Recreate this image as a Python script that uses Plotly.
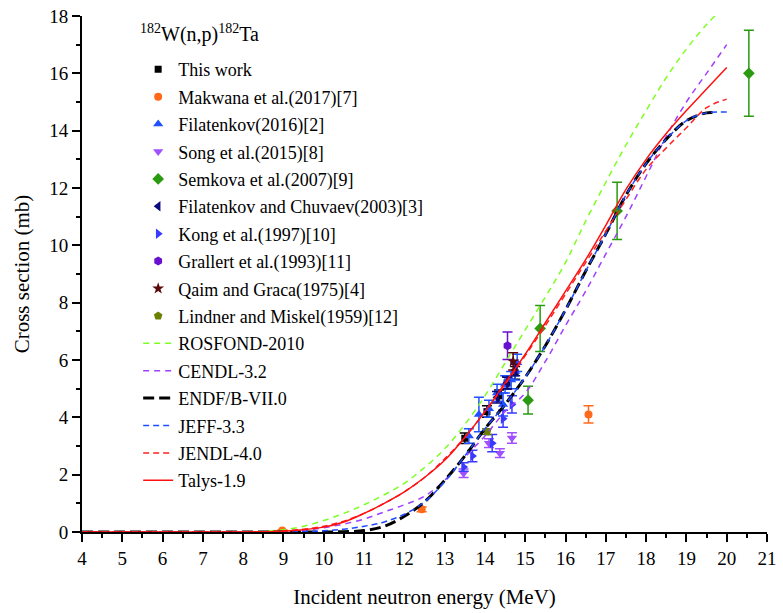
import plotly.graph_objects as go

# ---------------- data ----------------
this_E = [13.5, 14.05, 14.35, 14.55, 14.75]
this_S = [3.27, 4.2, 4.75, 5.2, 5.55]
this_err = [0.18, 0.2, 0.2, 0.22, 0.22]

mak_E = [8.97, 12.43, 16.57]
mak_S = [0.05, 0.79, 4.1]
mak_err = [0.02, 0.08, 0.3]

fil16_E = [13.6, 13.85, 14.1, 14.3, 14.45, 14.5, 14.65, 14.75, 14.8]
fil16_S = [3.35, 4.1, 4.3, 4.85, 4.45, 5.15, 5.3, 5.6, 5.9]
fil16_err = [0.25, 0.6, 0.3, 0.3, 0.4, 0.3, 0.3, 0.3, 0.3]

song_E = [13.47, 14.1, 14.37, 14.67]
song_S = [2.05, 3.1, 2.75, 3.28]
song_err = [0.15, 0.15, 0.15, 0.18]

sem_E = [15.07, 15.37, 17.28, 20.55]
sem_S = [4.6, 7.1, 11.2, 16.0]
sem_err = [0.48, 0.8, 1.0, 1.5]

fc_E = [14.3, 14.55, 14.75]
fc_S = [4.7, 5.2, 5.65]
fc_err = [0.2, 0.2, 0.2]

kong_E = [13.47, 13.69, 14.18, 14.45, 14.67]
kong_S = [2.27, 2.65, 3.1, 3.95, 4.45]
kong_err = [0.15, 0.2, 0.3, 0.3, 0.3]

gra_E = [14.56]
gra_S = [6.5]
gra_err = [0.48]

qaim_E = [14.7]
qaim_S = [5.95]
qaim_err = [0.3]

lind_E = [14.05]
lind_S = [3.5]
lind_err = [0.1]

E_grid = [4, 5, 6, 7, 8, 8.5, 9, 9.5, 10, 10.5, 11, 11.5, 12, 12.5, 13, 13.5,
          14, 14.5, 15, 15.5, 16, 16.5, 17, 17.5, 18, 18.5, 19, 19.5, 20]
rosfond = [0, 0, 0, 0, 0, 0.02, 0.08, 0.2, 0.4, 0.65, 0.95, 1.3, 1.7, 2.25, 2.9, 3.75,
           4.75, 5.9, 7.05, 8.2, 9.4, 10.85, 12.2, 13.5, 14.7, 15.85, 16.85, 17.7, 18.4]
cendl = [0, 0, 0, 0, 0, 0, 0.02, 0.06, 0.15, 0.28, 0.45, 0.7, 0.95, 1.25, 1.8, 2.6,
         3.35, 4.2, 4.85, 5.95, 7.2, 8.4, 9.7, 11.0, 12.4, 13.8, 15.0, 16.0, 17.0]
endf_E = [4, 5, 6, 7, 8, 9, 10, 10.5, 11, 11.5, 12, 12.5, 13, 13.5, 14, 14.5, 15,
          15.5, 16, 16.5, 17, 17.5, 18, 18.5, 19, 19.5, 19.75]
endf = [0, 0, 0, 0, 0, 0, 0, 0.01, 0.05, 0.2, 0.55, 1.05, 1.8, 2.65, 3.6, 4.45, 5.4,
        6.5, 7.75, 9.1, 10.4, 11.75, 12.85, 13.7, 14.35, 14.62, 14.62]
jeff_E = [4, 5, 6, 7, 8, 9, 9.5, 10, 10.5, 11, 11.5, 12, 12.5, 13, 13.5, 14, 14.5,
          15, 15.5, 16, 16.5, 17, 17.5, 18, 18.5, 19, 19.5, 20]
jeff = [0, 0, 0, 0, 0, 0, 0.01, 0.04, 0.1, 0.2, 0.35, 0.62, 1.05, 1.75, 2.65, 3.6,
        4.45, 5.4, 6.5, 7.75, 9.1, 10.4, 11.75, 12.85, 13.7, 14.35, 14.62, 14.65]
jendl = [0, 0, 0, 0, 0, 0.01, 0.04, 0.1, 0.2, 0.38, 0.65, 1.0, 1.4, 1.9, 2.55, 3.3,
         4.2, 5.15, 6.15, 7.2, 8.3, 9.4, 10.5, 11.6, 12.65, 13.4, 14.1, 14.8, 15.1]
talys = [0, 0, 0, 0, 0, 0.01, 0.03, 0.08, 0.17, 0.35, 0.65, 1.0, 1.4, 1.9, 2.5, 3.3,
         4.2, 5.2, 6.2, 7.3, 8.4, 9.5, 10.7, 11.95, 13.0, 13.9, 14.7, 15.45, 16.2]

x_ticks = list(range(4, 22))
y_ticks = list(range(0, 19, 2))

FONT = "Times New Roman"

fig = go.Figure()

def pts(name, E, S, err, color, symbol, size=8):
    fig.add_trace(go.Scatter(
        x=E, y=S, mode="markers", name=name,
        marker=dict(color=color, symbol=symbol, size=size),
        error_y=dict(type="data", array=err, color=color, thickness=1.5, width=5),
        legendgroup=name))

pts("This work", this_E, this_S, this_err, "black", "square", 7)
pts("Makwana et al.(2017)[7]", mak_E, mak_S, mak_err, "#FF6A1A", "circle", 8)
pts("Filatenkov(2016)[2]", fil16_E, fil16_S, fil16_err, "#2050FF", "triangle-up", 9)
pts("Song et al.(2015)[8]", song_E, song_S, song_err, "#A050FF", "triangle-down", 9)
pts("Semkova et al.(2007)[9]", sem_E, sem_S, sem_err, "#2A9A10", "diamond", 9)
pts("Filatenkov and Chuvaev(2003)[3]", fc_E, fc_S, fc_err, "#0A0A80", "triangle-left", 9)
pts("Kong et al.(1997)[10]", kong_E, kong_S, kong_err, "#3A3AFF", "triangle-right", 9)
pts("Grallert et al.(1993)[11]", gra_E, gra_S, gra_err, "#6A10D0", "hexagon", 9)
pts("Qaim and Graca(1975)[4]", qaim_E, qaim_S, qaim_err, "#5A0A0A", "star", 9)
pts("Lindner and Miskel(1959)[12]", lind_E, lind_S, lind_err, "#6B7F00", "pentagon", 9)

def line(name, E, S, color, dash, width):
    fig.add_trace(go.Scatter(
        x=E, y=S, mode="lines", name=name,
        line=dict(color=color, dash=dash, width=width, shape="spline"),
        legendgroup=name))

line("ROSFOND-2010", E_grid, rosfond, "#7CFF20", "6px,5px", 1.5)
line("CENDL-3.2", E_grid, cendl, "#A040FF", "6px,5px", 1.5)
line("ENDF/B-VII.0", endf_E, endf, "black", "11px,5px", 3)
line("JEFF-3.3", jeff_E, jeff, "#1E4BFF", "6px,4px", 1.5)
line("JENDL-4.0", E_grid, jendl, "#FF2020", "6px,4px", 1.5)
line("Talys-1.9", E_grid, talys, "#FF1010", "solid", 1.5)

fig.add_annotation(
    text="<sup>182</sup>W(n,p)<sup>182</sup>Ta", xref="paper", yref="paper",
    x=0.082, y=0.995, xanchor="left", yanchor="top", showarrow=False,
    font=dict(family=FONT, size=20, color="black"))

fig.update_layout(
    width=783, height=613,
    margin=dict(l=82, r=6, t=16, b=81),
    paper_bgcolor="white", plot_bgcolor="white",
    font=dict(family=FONT, color="black", size=18),
    showlegend=True,
    legend=dict(x=0.082, y=0.932, xanchor="left", yanchor="top",
                bgcolor="rgba(0,0,0,0)", font=dict(family=FONT, size=18, color="black"),
                traceorder="grouped", tracegroupgap=1),
    xaxis=dict(range=[4, 21], tickvals=x_ticks, ticktext=[str(v) for v in x_ticks],
               showgrid=False, zeroline=False, showline=True, linecolor="black",
               linewidth=2, ticks="outside", ticklen=8, tickwidth=2,
               tickcolor="black", tickfont=dict(family=FONT, size=19, color="black"),
               ticklabeloverflow="allow",
               minor=dict(ticks="outside", ticklen=4, tickwidth=1.5, dtick=0.5,
                          tickcolor="black"),
               title=dict(text="Incident neutron energy (MeV)",
                          font=dict(family=FONT, size=21, color="black"), standoff=22)),
    yaxis=dict(range=[0, 18], tickvals=y_ticks, ticktext=[str(v) for v in y_ticks],
               showgrid=False, zeroline=False, showline=True, linecolor="black",
               linewidth=2, ticks="outside", ticklen=8, tickwidth=2,
               tickcolor="black", tickfont=dict(family=FONT, size=19, color="black"),
               ticklabeloverflow="allow",
               minor=dict(ticks="outside", ticklen=4, tickwidth=1.5, dtick=1,
                          tickcolor="black"),
               title=dict(text="Cross section (mb)",
                          font=dict(family=FONT, size=21, color="black"), standoff=14)),
)

fig.write_html("out.html")
